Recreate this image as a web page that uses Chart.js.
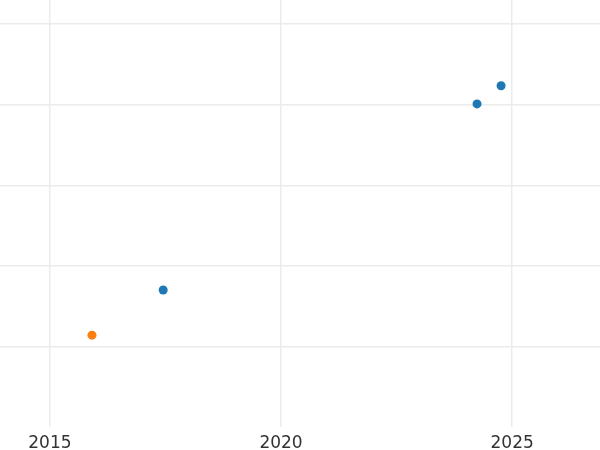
<!DOCTYPE html>
<html>
<head>
<meta charset="utf-8">
<script src="https://cdn.jsdelivr.net/npm/chart.js@4"></script>
<style>
  html, body { margin: 0; padding: 0; background: #fff; }
  canvas { display: block; }
</style>
</head>
<body>
<canvas id="chart" width="600" height="450"></canvas>
<script>
const blueX = [2017.45, 2024.24, 2024.76];
const blueY = [1.70, 4.01, 4.235];
const orangeX = [2015.91];
const orangeY = [1.14];
const xTicks = [2015, 2020, 2025];
const yTicks = [1, 2, 3, 4, 5];

const toPoints = (xs, ys) => xs.map((x, i) => ({ x: x, y: ys[i] }));

new Chart(document.getElementById("chart"), {
  type: "scatter",
  data: {
    datasets: [
      {
        data: toPoints(blueX, blueY),
        backgroundColor: "#1f77b4",
        borderWidth: 0,
        pointRadius: 4.5,
      },
      {
        data: toPoints(orangeX, orangeY),
        backgroundColor: "#ff7f0e",
        borderWidth: 0,
        pointRadius: 4.5,
      },
    ],
  },
  options: {
    responsive: false,
    animation: false,
    layout: { padding: 0, autoPadding: false },
    plugins: { legend: { display: false }, tooltip: { enabled: false } },
    scales: {
      x: {
        type: "linear",
        min: 2013.92,
        max: 2026.9,
        afterBuildTicks: (axis) => {
          axis.ticks = xTicks.map((v) => ({ value: v }));
        },
        afterFit: (axis) => {
          axis.height = 23;
        },
        grid: { color: "#ebebeb", lineWidth: 1.5, drawTicks: false },
        border: { display: false },
        ticks: {
          color: "#333333",
          padding: 8,
          font: { family: "DejaVu Sans", size: 17, lineHeight: 1 },
          callback: (v) => String(v),
        },
      },
      y: {
        min: 0,
        max: 5.3,
        afterBuildTicks: (axis) => {
          axis.ticks = yTicks.map((v) => ({ value: v }));
        },
        grid: { color: "#ebebeb", lineWidth: 1.5, drawTicks: false },
        border: { display: false },
        ticks: { display: false },
      },
    },
  },
});
</script>
</body>
</html>
